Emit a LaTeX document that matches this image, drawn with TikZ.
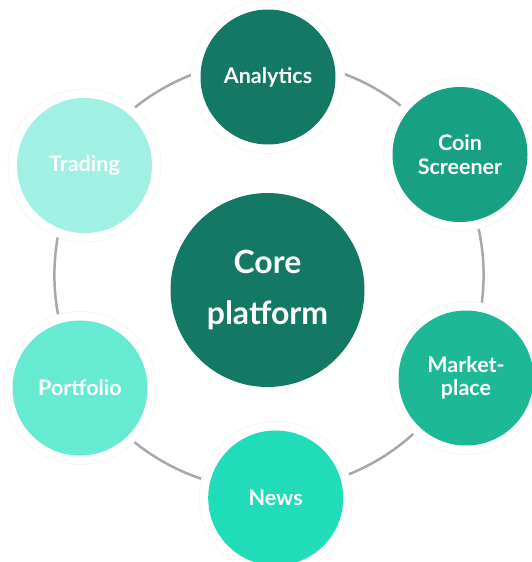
\documentclass[tikz,border=0pt]{standalone}
\usepackage{fontspec}
\setmainfont{Lato}
\definecolor{cA}{HTML}{137864}
\definecolor{cB}{HTML}{18A082}
\definecolor{cC}{HTML}{1DB996}
\definecolor{cD}{HTML}{20DCB9}
\definecolor{cE}{HTML}{66EBD2}
\definecolor{cF}{HTML}{A0F0E3}
\definecolor{ringgray}{HTML}{A8A8A8}
\definecolor{halo}{HTML}{F6F6F6}
\tikzset{
  halobox/.style={circle, fill=white, draw=halo, line width=0.8pt, minimum size=153pt, inner sep=0pt},
  satbox/.style={circle, minimum size=135pt, inner sep=0pt, text=white, align=center,
    font=\fontsize{21.5}{23.5}\selectfont\bfseries},
  corebox/.style={circle, minimum size=194pt, inner sep=0pt, text=white, align=center, fill=cA,
    font=\fontsize{32}{51}\selectfont\bfseries},
  ringline/.style={draw=ringgray, line width=2.5pt}
}
\begin{document}
\begin{tikzpicture}[x=1pt,y=-1pt]
\useasboundingbox (0,0) rectangle (532,562);
\coordinate (rc) at (269,275);
\draw[ringline] (rc) circle (214.6);
% halos
\foreach \p/\n in {{(268,77)}/hA,{(460,154.5)}/hB,{(466,378)}/hC,{(275.7,498)}/hD,{(80,388)}/hE,{(84.5,165.5)}/hF}
  \node[halobox] (\n) at \p {};
\node[satbox, fill=cA] (analytics) at (268,77) {Analytics};
\node[satbox, fill=cB] (coin) at (460,154.5) {Coin\\Screener};
\node[satbox, fill=cC] (market) at (466,378) {Market-\\place};
\node[satbox, fill=cD] (news) at (275.7,498) {News};
\node[satbox, fill=cE] (portfolio) at (80,388) {Portfolio};
\node[satbox, fill=cF] (trading) at (84.5,165.5) {Trading};
\node[corebox] (core) at (267.5,290) {Core\\platform};
\end{tikzpicture}
\end{document}
